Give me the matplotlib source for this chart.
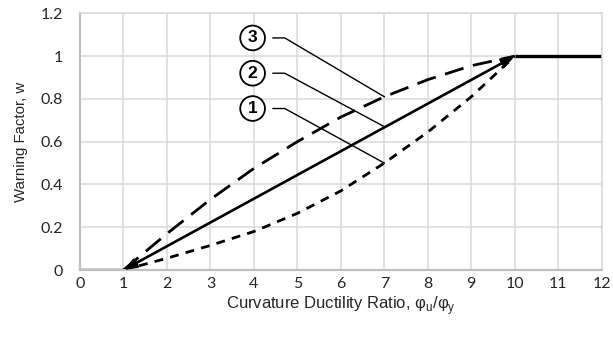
import matplotlib
matplotlib.use("Agg")
import matplotlib.pyplot as plt

# ductility ratio points and warning factor for each curve
ratio = [1, 2, 3, 4, 5, 6, 7, 8, 9, 10]
w_curve1 = [0, 0.055, 0.115, 0.18, 0.265, 0.37, 0.50, 0.645, 0.81, 1.0]
w_curve2 = [0, 0.11, 0.22, 0.33, 0.44, 0.56, 0.67, 0.78, 0.89, 1.0]
w_curve3 = [0, 0.17, 0.33, 0.475, 0.60, 0.715, 0.81, 0.89, 0.955, 1.0]

# flat parts before yield and after the limit
low_x, low_w = [0, 1], [0, 0]
high_x, high_w = [10, 12], [1, 1]

curve_labels = ["1", "2", "3"]
label_x = 3.97
label_w = [0.755, 0.92, 1.085]
pointer_ratio = 7

x_ticks = list(range(0, 13))
y_ticks = [0, 0.2, 0.4, 0.6, 0.8, 1, 1.2]
y_tick_labels = ["0", "0.2", "0.4", "0.6", "0.8", "1", "1.2"]

fig = plt.figure(figsize=(6.13, 3.42), dpi=100)
ax = fig.add_axes([0.1305, 0.2105, 0.8511, 0.7505])

ax.plot(low_x, low_w, color="black", lw=2.4, solid_capstyle="butt")
ax.plot(high_x, high_w, color="black", lw=2.4, solid_capstyle="butt")
ax.plot(ratio, w_curve1, color="black", lw=2.0, ls=(0, (3.2, 2.6)))
ax.plot(ratio, w_curve3, color="black", lw=2.0, ls=(0, (7, 3.5)))
ax.annotate("", xy=(ratio[-1], w_curve2[-1]), xytext=(ratio[0], w_curve2[0]),
            arrowprops=dict(arrowstyle="<|-|>,head_length=0.75,head_width=0.28",
                            color="black", lw=1.9, shrinkA=0, shrinkB=0))

# numbered callouts with leader lines to each curve at the pointer ratio
idx = ratio.index(pointer_ratio)
for lab, ly, curve in zip(curve_labels, label_w, [w_curve1, w_curve2, w_curve3]):
    ax.plot([label_x + 0.47, label_x + 0.74, pointer_ratio], [ly, ly, curve[idx]],
            color="black", lw=1.0)
    ax.text(label_x, ly, lab, ha="center", va="center", fontsize=12.5,
            fontweight="bold", family="Liberation Sans",
            bbox=dict(boxstyle="circle,pad=0.28", fc="white", ec="black", lw=1.3))

ax.set_xlim(0, 12)
ax.set_ylim(0, 1.2)
ax.set_xticks(x_ticks)
ax.set_yticks(y_ticks)
ax.set_yticklabels(y_tick_labels)
ax.grid(True, color="#d9d9d9", lw=1.1)
ax.set_axisbelow(True)
ax.tick_params(length=0, labelsize=11.5, labelcolor="#262626")
ax.tick_params(axis="x", pad=5)
ax.tick_params(axis="y", pad=12)
for lbl in ax.get_xticklabels() + ax.get_yticklabels():
    lbl.set_family("Lato")

for side in ["left", "bottom"]:
    ax.spines[side].set_color("#bfbfbf")
    ax.spines[side].set_linewidth(1.6)
for side in ["top", "right"]:
    ax.spines[side].set_color("#d9d9d9")
    ax.spines[side].set_linewidth(1.1)

ax.set_xlabel(r"Curvature Ductility Ratio, φ$_\mathregular{u}$/φ$_\mathregular{y}$",
              fontsize=12, family="Liberation Sans", color="#262626", labelpad=2)
ax.set_ylabel("Warning Factor, w", fontsize=10.8, family="Liberation Sans",
              color="#262626", labelpad=9)

fig.savefig("out.png", dpi=100)
